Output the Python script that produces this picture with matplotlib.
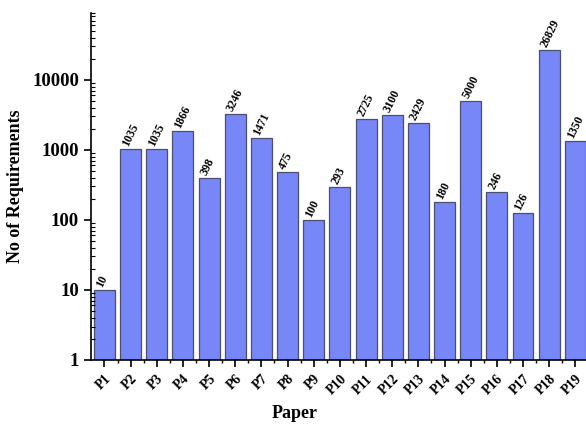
import numpy as np
import matplotlib
matplotlib.use("Agg")
import matplotlib.pyplot as plt
import matplotlib.ticker as mticker
from matplotlib import rcParams

rcParams["font.family"] = ["Liberation Serif", "DejaVu Serif"]
rcParams["font.weight"] = "bold"

papers = ["P1", "P2", "P3", "P4", "P5", "P6", "P7", "P8", "P9", "P10",
          "P11", "P12", "P13", "P14", "P15", "P16", "P17", "P18", "P19"]
requirements = [10, 1035, 1035, 1866, 398, 3246, 1471, 475, 100, 293,
                2725, 3100, 2429, 180, 5000, 246, 126, 26829, 1350]

fig = plt.figure(figsize=(5.86, 4.29), dpi=100)
ax = fig.add_axes([0.155, 0.161, 0.85, 0.809])

x = np.arange(1, len(papers) + 1)
ax.bar(x, requirements, width=0.8, color="#7887f8", edgecolor="#4a4f70",
       linewidth=0.9, log=True)

# value labels, tilted, starting near the left edge of each bar
for xi, v in zip(x, requirements):
    ax.text(xi - 0.2, v * 1.12, str(v), rotation=64, rotation_mode="anchor",
            ha="left", va="center", fontsize=8.5, fontweight="bold")

ax.set_yscale("log")
ax.set_ylim(1, 9e4)
ax.set_xlim(0.48, 19.52)

ax.set_xticks(x)
ax.set_xticklabels(papers, rotation=45, ha="right", rotation_mode="anchor",
                   fontsize=10, fontweight="bold")
ax.xaxis.set_minor_locator(mticker.FixedLocator(x[:-1] + 0.5))
ax.tick_params(axis="x", which="major", direction="out", length=5, width=1.2, pad=4)
ax.tick_params(axis="x", which="minor", direction="out", length=2.5, width=1)

ax.yaxis.set_major_locator(mticker.LogLocator(base=10))
ax.yaxis.set_minor_locator(mticker.LogLocator(base=10, subs=np.arange(2, 10)))
ax.yaxis.set_major_formatter(mticker.FuncFormatter(lambda v, p: f"{int(v)}"))
ax.yaxis.set_minor_formatter(mticker.NullFormatter())
ax.tick_params(axis="y", which="major", direction="out", length=5, width=1.2,
               labelsize=13.5)
ax.tick_params(axis="y", which="minor", direction="in", length=3, width=0.8)

for s in ["top", "right"]:
    ax.spines[s].set_visible(False)
for s in ["left", "bottom"]:
    ax.spines[s].set_linewidth(1.2)

ax.set_xlabel("Paper", fontsize=13, fontweight="bold")
ax.xaxis.set_label_coords(0.41, -0.13)
ax.set_ylabel("No of Requirements", fontsize=13, fontweight="bold", labelpad=6)

fig.savefig("out.png", dpi=100)
